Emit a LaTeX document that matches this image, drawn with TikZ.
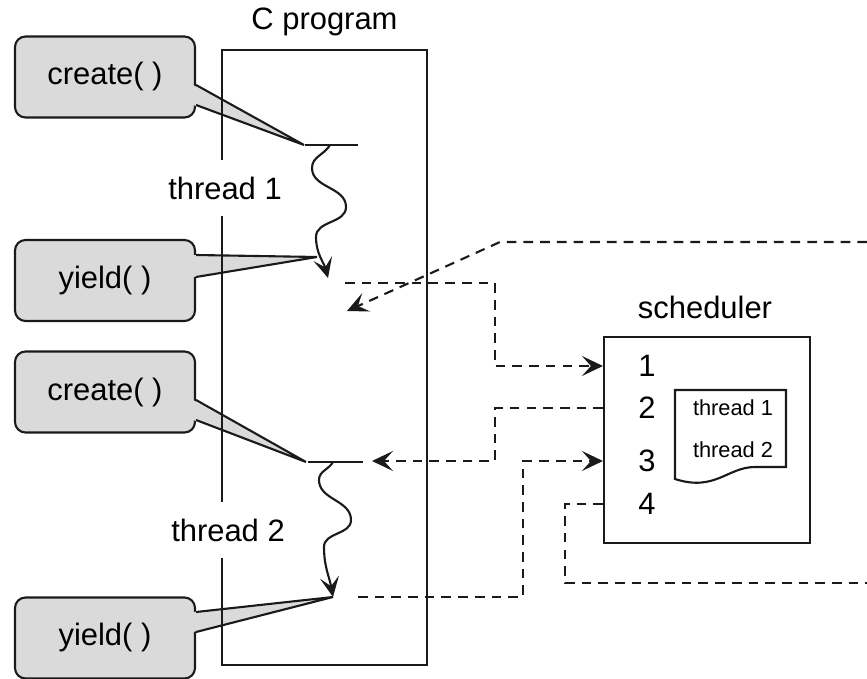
\documentclass[tikz,border=0pt]{standalone}
\usepackage{fontspec}
\setmainfont{Liberation Sans}
\usetikzlibrary{arrows.meta,calc,positioning}
\definecolor{callF}{HTML}{DADADA}
\definecolor{lineC}{HTML}{1A1A1A}
\newcommand\mainsz{\fontsize{17.6}{21}\selectfont}
\newcommand\smallsz{\fontsize{12.4}{15}\selectfont}
\tikzset{
  ln/.style={draw=lineC, line width=1.2pt},
  call/.style={ln, rounded corners=6pt, fill=callF, minimum width=3.6cm, minimum height=1.62cm,
               inner sep=0pt, font=\mainsz},
  frame/.style={ln, inner sep=0pt},
  lbl/.style={font=\mainsz, inner sep=0pt},
  gap/.style={lbl, fill=white, inner xsep=2pt, inner ysep=0.33cm},
  wave/.style={ln, -{Stealth[length=4mm,width=3.8mm,inset=1.8mm]}},
  dln/.style={ln, dash pattern=on 5.5pt off 4pt},
  darr/.style={dln, -{Stealth[length=4.2mm,width=4mm,inset=1.8mm]}},
}
% pointer of a callout: node, upper and lower offset on its east side, tip
\newcommand\pointer[4]{%
  \fill[callF] ($(#1.east)+(-0.06,#2)$) -- (#4) -- ($(#1.east)+(-0.06,#3)$) -- cycle;
  \draw[ln] ($(#1.east)+(0,#2)$) -- (#4) -- ($(#1.east)+(0,#3)$);}

\begin{document}
\begin{tikzpicture}
\useasboundingbox (0,0) rectangle (17.34,13.56);
% callouts on the left
\node[call] (cr1) at (2.1,12.02) {create( )};
\node[call] (yd1) at (2.1,7.95) {yield( )};
\node[call] (cr2) at (2.1,5.72) {create( )};
\node[call] (yd2) at (2.1,0.80) {yield( )};
\coordinate (tipC1) at (6.08,10.66);
\coordinate (tipY1) at (6.34,8.42);
\coordinate (tipC2) at (6.12,4.32);
\coordinate (tipY2) at (6.66,1.62);
\pointer{cr1}{-0.16}{-0.56}{tipC1}
\pointer{yd1}{0.51}{0.07}{tipY1}
\pointer{cr2}{-0.16}{-0.56}{tipC2}
\pointer{yd2}{0.52}{0.12}{tipY2}
% the program
\node[frame, minimum width=4.1cm, minimum height=12.3cm] (prog) at (6.49,6.41) {};
\node[lbl] (progl) at (6.49,13.12) {C program};
\node[gap] (th1) at (4.5,9.8) {thread 1};
\node[gap] (th2) at (4.56,2.96) {thread 2};
% thread starts and runs
\draw[ln] (6.10,10.66) -- (7.16,10.66);
\draw[ln] (6.16,4.32) -- (7.26,4.32);
\draw[wave] (6.60,10.66) to[out=-120,in=90] (6.24,10.20) to[out=-90,in=90] (6.92,9.42)
  to[out=-90,in=90] (6.32,8.82) to[out=-90,in=105] (6.56,8.00);
\draw[wave] (6.66,4.32) to[out=-120,in=90] (6.38,3.96) to[out=-90,in=90] (7.02,3.16)
  to[out=-90,in=90] (6.48,2.62) to[out=-90,in=100] (6.66,1.62);
% scheduler
\node[frame, minimum width=4.12cm, minimum height=4.12cm] (sched) at (14.14,4.76) {};
\node[lbl] (schedl) at (14.10,7.42) {scheduler};
\node[lbl] (n1) at (12.94,6.24) {1};
\node[lbl] (n2) at (12.94,5.40) {2};
\node[lbl] (n3) at (12.94,4.34) {3};
\node[lbl] (n4) at (12.94,3.48) {4};
\draw[ln] (13.5,5.76) -- (15.72,5.76) -- (15.72,4.22) -- (15.1,4.22)
  .. controls (14.55,4.22) and (14.3,3.72) .. (13.5,3.98) -- cycle;
\node[lbl, font=\smallsz] (q1) at (14.66,5.40) {thread 1};
\node[lbl, font=\smallsz] (q2) at (14.66,4.56) {thread 2};
% hand-overs
\coordinate (out1) at (6.90,7.90);
\coordinate (out2) at (7.16,1.62);
\coordinate (in1) at (6.94,7.34);
\coordinate (in2) at (7.44,4.34);
\coordinate (off1) at (17.34,1.90);
\coordinate (off2) at (17.34,8.72);
\draw[darr] (out1) -| (9.9,6.24) -- (sched.west |- n1);
\draw[darr] (sched.west |- n2) -| (9.9,4.34) -- (in2);
\draw[darr] (out2) -| (10.46,4.34) -- (sched.west |- n3);
\draw[dln] (sched.west |- n4) -| (11.30,1.90) -- (off1);
\draw[darr] (off2) -- (10.0,8.72) -- (in1);
\end{tikzpicture}
\end{document}
